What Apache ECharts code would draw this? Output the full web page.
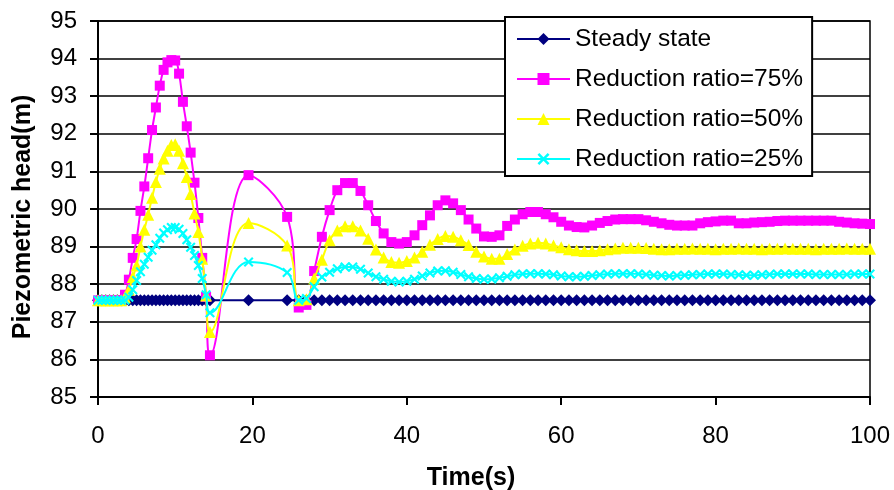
<!DOCTYPE html>
<html>
<head>
<meta charset="utf-8">
<script src="https://cdn.jsdelivr.net/npm/echarts@6/dist/echarts.min.js"></script>
<style>
html,body{margin:0;padding:0;background:#fff;}
#chart{width:894px;height:490px;}
</style>
</head>
<body>
<div id="chart"></div>
<script>
// Time samples (s)
const times = [0,0.5,1,1.5,2,2.5,3,3.5,4,4.5,5,5.5,6,6.5,7,7.5,8,8.5,9,9.5,10,10.5,11,11.5,12,12.5,13,13.5,14,14.5,
  19.5,24.5,
  26,27,28,29,30,31,32,33,34,35,36,37,38,39,40,41,42,43,44,45,46,47,48,49,50,
  51,52,53,54,55,56,57,58,59,60,61,62,63,64,65,66,67,68,69,70,71,72,73,74,75,
  76,77,78,79,80,81,82,83,84,85,86,87,88,89,90,91,92,93,94,95,96,97,98,99,100];

const seriesNames = ['Steady state','Reduction ratio=75%','Reduction ratio=50%','Reduction ratio=25%'];
const xTitle = 'Time(s)';
const yTitle = 'Piezometric head(m)';

const steady = times.map(function(){ return 87.57; });

const ratio75 = [87.57,87.57,87.57,87.57,87.57,87.57,87.57,87.72,88.12,88.7,89.2,89.95,90.6,91.35,92.1,92.7,93.28,93.7,93.9,93.96,93.95,93.6,92.85,92.2,91.5,90.7,89.76,88.7,87.66,86.11,
  90.9,89.79,
  87.38,87.45,88.35,89.26,89.97,90.5,90.69,90.69,90.48,90.10,89.68,89.35,89.12,89.08,89.12,89.30,89.57,89.83,90.10,90.23,90.15,89.97,89.72,89.48,89.27,
  89.26,89.30,89.55,89.72,89.86,89.92,89.92,89.86,89.78,89.66,89.56,89.52,89.51,89.56,89.63,89.68,89.72,89.73,89.73,89.73,89.70,89.66,89.62,89.58,89.56,
  89.56,89.56,89.62,89.65,89.67,89.69,89.69,89.62,89.62,89.64,89.65,89.66,89.68,89.69,89.69,89.69,89.69,89.69,89.69,89.69,89.66,89.64,89.62,89.61,89.60];

const ratio50 = [87.57,87.57,87.57,87.57,87.57,87.57,87.57,87.65,87.85,88.19,88.5,89.0,89.45,89.85,90.3,90.72,91.07,91.34,91.55,91.7,91.72,91.55,91.22,90.85,90.4,89.88,89.39,88.68,87.7,86.73,
  89.63,89.03,
  87.57,87.6,88.15,88.65,89.17,89.43,89.54,89.54,89.43,89.21,88.92,88.71,88.59,88.57,88.62,88.71,88.86,89.05,89.2,89.28,89.26,89.17,89.04,88.86,88.74,
  88.68,88.68,88.8,88.92,89.02,89.08,89.1,89.08,89.03,88.98,88.93,88.9,88.88,88.88,88.9,88.93,88.95,88.97,88.97,88.97,88.96,88.94,88.93,88.93,88.94,
  88.94,88.95,88.94,88.94,88.93,88.94,88.94,88.95,88.94,88.94,88.93,88.94,88.94,88.95,88.94,88.94,88.94,88.93,88.94,88.94,88.94,88.95,88.94,88.94,88.94];

const ratio25 = [87.57,87.57,87.57,87.57,87.57,87.57,87.57,87.57,87.65,87.85,88.1,88.33,88.53,88.72,88.9,89.05,89.22,89.36,89.45,89.51,89.51,89.46,89.35,89.18,88.98,88.76,88.5,88.15,87.72,87.24,
  88.59,88.31,
  87.57,87.62,87.93,88.19,88.32,88.41,88.46,88.46,88.40,88.30,88.20,88.13,88.08,88.06,88.08,88.13,88.22,88.30,88.35,88.36,88.32,88.26,88.20,88.15,88.13,
  88.14,88.17,88.21,88.25,88.27,88.28,88.28,88.27,88.25,88.22,88.20,88.20,88.21,88.23,88.25,88.27,88.28,88.28,88.28,88.27,88.26,88.24,88.23,88.22,88.23,
  88.24,88.25,88.26,88.27,88.27,88.27,88.26,88.25,88.24,88.24,88.25,88.26,88.27,88.27,88.27,88.27,88.27,88.26,88.26,88.26,88.26,88.26,88.27,88.27,88.27];

const xTicks = {min:0, max:100, interval:20};
const yTicks = {min:85, max:95, interval:1};

function pairs(vals){ return times.map(function(t,i){ return [t, vals[i]]; }); }

const FONT = 'Liberation Sans, Arial, Helvetica, sans-serif';
const crossPath = 'path://M1.5,0 L5,3.5 L8.5,0 L10,1.5 L6.5,5 L10,8.5 L8.5,10 L5,6.5 L1.5,10 L0,8.5 L3.5,5 L0,1.5 Z';

const chart = echarts.init(document.getElementById('chart'), null, {renderer:'canvas'});
chart.setOption({
  animation:false,
  backgroundColor:'#fff',
  grid:{left:98, right:24, top:21, bottom:93, containLabel:false, outerBoundsMode:'none',
        show:true, borderColor:'#000', borderWidth:1.5, backgroundColor:'transparent'},
  xAxis:{
    type:'value', min:xTicks.min, max:xTicks.max, interval:xTicks.interval,
    axisLine:{show:true, onZero:false, lineStyle:{color:'#000', width:2}},
    axisTick:{show:true, inside:false, length:8, lineStyle:{color:'#000', width:2}},
    axisLabel:{fontFamily:FONT, fontSize:24, color:'#000', margin:27},
    splitLine:{show:false}
  },
  yAxis:{
    type:'value', min:yTicks.min, max:yTicks.max, interval:yTicks.interval,
    axisLine:{show:true, lineStyle:{color:'#000', width:2}},
    axisTick:{show:true, inside:false, length:8, lineStyle:{color:'#000', width:2}},
    axisLabel:{fontFamily:FONT, fontSize:24, color:'#000', margin:21},
    splitLine:{show:true, lineStyle:{color:'#000', width:1.5}}
  },
  graphic:[
    {type:'text', x:471, y:478,
     style:{text:xTitle, fontFamily:FONT, fontSize:25, fontWeight:'bold', fill:'#000',
            align:'center', verticalAlign:'middle'},
     silent:true},
    {type:'text', x:23, y:217, rotation:Math.PI/2,
     style:{text:yTitle, fontFamily:FONT, fontSize:25, fontWeight:'bold', fill:'#000',
            align:'center', verticalAlign:'middle'},
     silent:true}
  ],
  legend:{
    orient:'vertical', left:505, top:17,
    padding:[9,9,4,11], itemGap:14, itemWidth:53, itemHeight:15,
    backgroundColor:'#fff', borderColor:'#000', borderWidth:2,
    textStyle:{fontFamily:FONT, fontSize:24.5, color:'#000', lineHeight:26},
    data:seriesNames
  },
  series:[
    {name:seriesNames[0], type:'line', data:pairs(steady), smooth:0.4,
     symbol:'diamond', symbolSize:12, itemStyle:{color:'#000080'},
     lineStyle:{color:'#000080', width:2}, z:2},
    {name:seriesNames[1], type:'line', data:pairs(ratio75), smooth:0.4,
     symbol:'rect', symbolSize:10, itemStyle:{color:'#FF00FF'},
     lineStyle:{color:'#FF00FF', width:2}, z:3},
    {name:seriesNames[2], type:'line', data:pairs(ratio50), smooth:0.4,
     symbol:'triangle', symbolSize:12, itemStyle:{color:'#FFFF00'},
     lineStyle:{color:'#FFFF00', width:2}, z:4},
    {name:seriesNames[3], type:'line', data:pairs(ratio25), smooth:0.4,
     symbol:crossPath, symbolSize:10, itemStyle:{color:'#00FFFF'},
     lineStyle:{color:'#00FFFF', width:2}, z:5}
  ]
});
</script>
</body>
</html>
